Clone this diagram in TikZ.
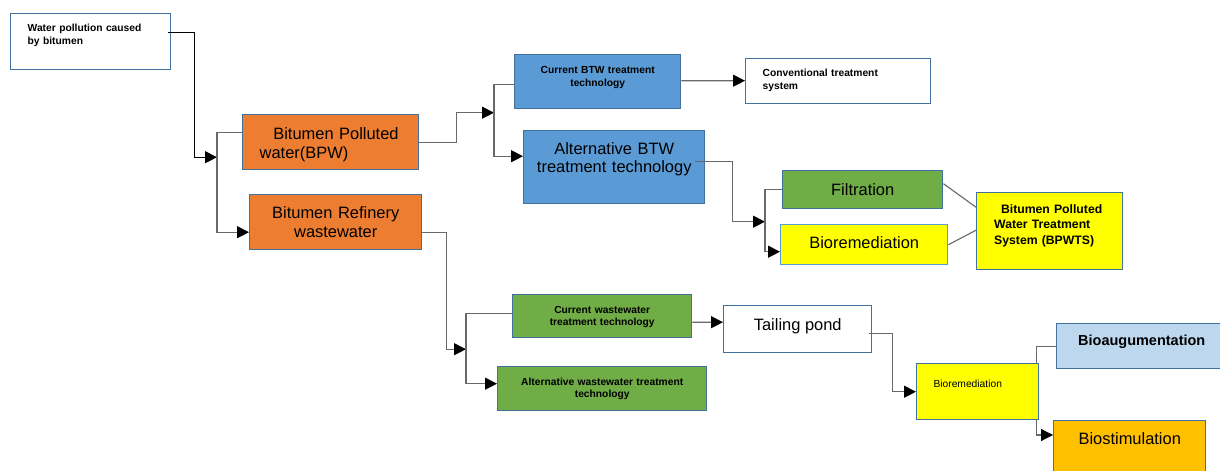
\documentclass[tikz,border=0pt]{standalone}
\usepackage{fontspec}
\setmainfont{Liberation Sans}
\usetikzlibrary{arrows.meta,calc}
\definecolor{boxline}{RGB}{65,113,156}
\definecolor{lightline}{RGB}{91,155,213}
\definecolor{linegray}{RGB}{105,105,105}
\definecolor{orangefill}{RGB}{237,125,49}
\definecolor{bluefill}{RGB}{91,155,213}
\definecolor{greenfill}{RGB}{112,173,71}
\definecolor{yellowfill}{RGB}{255,255,0}
\definecolor{paleblue}{RGB}{189,215,238}
\definecolor{goldfill}{RGB}{255,192,0}
\newcommand{\bigtxt}{\fontsize{11.7}{14.2}\selectfont}
\newcommand{\smalltxt}{\fontsize{7.3}{9}\selectfont\bfseries}
\tikzset{
  box/.style={draw=boxline, line width=1pt, anchor=north west, inner ysep=0pt,
              inner xsep=0pt, align=center, font=\bigtxt},
  leftbox/.style={align=left, inner xsep=#1},
  raise text/.style={text height=0pt, text depth=#1},
  lower text/.style={text height=#1, text depth=0pt},
  conn/.style={draw=linegray, line width=0.8pt},
  tip/.style={-{Triangle[length=8.5pt,width=8.5pt,black]}}
}
\begin{document}
\begin{tikzpicture}[x=0.025cm, y=-0.025cm]
                \useasboundingbox (0,0) rectangle (1220,471);
                \node[box, fill=white, leftbox=0.425cm, text width=3.15cm, minimum width=4cm, minimum height=1.4cm, raise text=0.5cm, font=\smalltxt] (wp) at (10,13) {Water pollution caused\\by bitumen};
                \node[box, fill=orangefill, leftbox=0.425cm, text width=3.55cm, minimum width=4.4cm, minimum height=1.375cm, raise text=0.16cm] (bpw) at (242,114) {\hspace*{0.34cm}Bitumen Polluted\\water(BPW)};
                \node[box, fill=orangefill, text width=4.3cm, minimum width=4.3cm, minimum height=1.375cm, raise text=0.21cm] (brw) at (249,194) {Bitumen Refinery\\wastewater};
                \node[box, fill=bluefill, text width=4.15cm, minimum width=4.15cm, minimum height=1.35cm, raise text=0.415cm, font=\smalltxt] (cbtw) at (514,54) {Current BTW treatment\\technology};
                \node[box, fill=white, leftbox=0.425cm, text width=3.775cm, minimum width=4.625cm, minimum height=1.125cm, raise text=0.225cm, font=\smalltxt] (conv) at (745,58) {Conventional treatment\\system};
                \node[box, fill=bluefill, text width=4.525cm, minimum width=4.525cm, minimum height=1.825cm, raise text=0.625cm, font=\fontsize{11.7}{12.8}\selectfont] (abtw) at (523,130) {Alternative BTW\\treatment technology};
                \node[box, fill=greenfill, minimum width=4cm, minimum height=0.95cm, lower text=0.285cm] (filt) at (782,170) {Filtration};
                \node[box, draw=lightline, fill=yellowfill, minimum width=4.175cm, minimum height=1cm, lower text=0.185cm] (bio1) at (780,224) {Bioremediation};
                \node[box, fill=yellowfill, leftbox=0.4375cm, text width=2.775cm, minimum width=3.65cm, minimum height=1.925cm, raise text=0.89cm, font=\fontsize{8.7}{11}\selectfont\bfseries] (bpwts) at (976,192) {\hspace*{0.17cm}Bitumen Polluted\\Water Treatment\\System (BPWTS)};
                \node[box, fill=greenfill, text width=4.475cm, minimum width=4.475cm, minimum height=1.075cm, raise text=0.16cm, font=\smalltxt] (cww) at (512,294) {Current wastewater\\treatment technology};
                \node[box, fill=greenfill, text width=5.225cm, minimum width=5.225cm, minimum height=1.1cm, raise text=0.185cm, font=\smalltxt] (aww) at (497,366) {Alternative wastewater treatment\\technology};
                \node[box, fill=white, minimum width=3.7cm, minimum height=1.175cm, lower text=0.075cm] (tail) at (723,305) {Tailing pond};
                \node[box, fill=yellowfill, leftbox=0.42cm, text width=2.21cm, minimum width=3.05cm, minimum height=1.4cm, raise text=0.215cm, font=\fontsize{7.3}{9}\selectfont] (bior2) at (916,363) {Bioremediation};
                \node[box, fill=paleblue, minimum width=4.25cm, minimum height=1.125cm, raise text=0.06cm, font=\fontsize{10.3}{12}\selectfont\bfseries] (baug) at (1056,323) {Bioaugumentation};
                \node[box, fill=goldfill, minimum width=3.8cm, minimum height=1.75cm, raise text=0.55cm] (bstim) at (1053,420) {Biostimulation};
                \coordinate (j1) at ($(bpw.west)+(-25,15)$);
                \coordinate (j2) at ($(cbtw.west)+(-20,31)$);
                \coordinate (j3) at ($(filt.west)+(-17,32)$);
                \coordinate (j4) at ($(cww.west)+(-46,33)$);
                \draw[conn, draw=black, tip] ($(wp.east)+(-3,-9)$) -- ++(26,0) |- (j1);
                \draw[conn, tip] ($(bpw.west)+(0,-10)$) -| (j1) |- ($(brw.west)+(0,10)$);
                \draw[conn, tip] (bpw.east) -- ++(37,0) |- (j2);
                \draw[conn, tip] ($(cbtw.west)+(0,3)$) -| (j2) |- ($(abtw.west)+(0,-11)$);
                \draw[conn, tip] ($(cbtw.east)+(0,-1)$) -- ($(conv.west)+(0,-0.5)$);
                \draw[conn, tip] ($(abtw.east)+(-10,-6)$) -- ++(37,0) |- (j3);
                \draw[conn, tip] (filt.west) -| (j3) |- ($(bio1.west)+(0,7)$);
                \draw[conn] ($(filt.east)+(0,-6)$) -- ($(bpwts.west)+(0,-24)$);
                \draw[conn] (bio1.east) -- ($(bpwts.west)+(0,-1)$);
                \draw[conn, tip] ($(brw.east)+(0,10)$) -- ++(24,0) |- (j4);
                \draw[conn, tip] ($(cww.west)+(0,-3)$) -| (j4) |- ($(aww.west)+(0,-5)$);
                \draw[conn, tip] ($(cww.east)+(0,6)$) -- ($(tail.west)+(0,-7)$);
                \draw[conn, tip] ($(tail.east)+(-3,4)$) -- ++(23,0) |- (bior2.west);
                \draw[conn] ($(bior2.north east)+(-3,0)$) |- (baug.west);
                \draw[conn, tip] ($(bior2.south east)+(-3,0)$) |- ($(bstim.north west)+(0,15)$);
\end{tikzpicture}
\end{document}
